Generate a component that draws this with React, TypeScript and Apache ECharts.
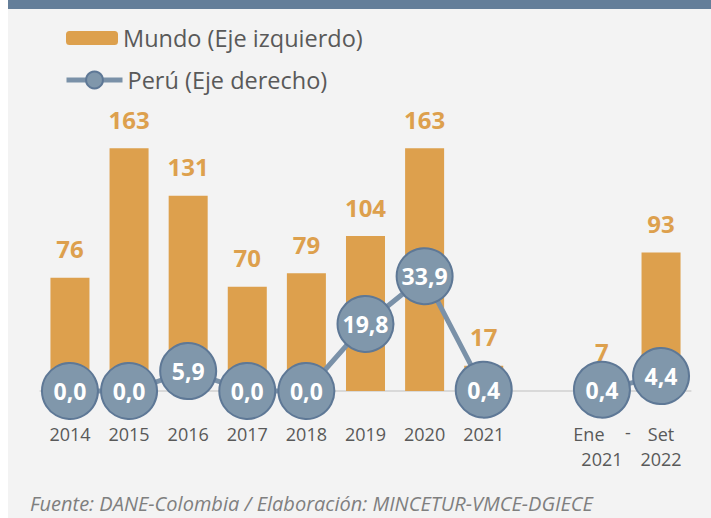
import React, { useEffect, useRef } from 'react';
import * as echarts from 'echarts';

const categories = ['2014', '2015', '2016', '2017', '2018', '2019', '2020', '2021', '', 'Ene\n2021', 'Set\n2022'];
const mundo = [76, 163, 131, 70, 79, 104, 163, 17, null, 7, 93];
const peru = [0.0, 0.0, 5.9, 0.0, 0.0, 19.8, 33.9, 0.4, null, 0.4, 4.4];
const legendNames = ['Mundo (Eje izquierdo)', 'Perú (Eje derecho)'];
const sourceText = 'Fuente: DANE-Colombia / Elaboración: MINCETUR-VMCE-DGIECE';

const FONT = '"Open Sans", "Noto Sans", sans-serif';

export default function App() {
  const ref = useRef<HTMLDivElement>(null);
  useEffect(() => {
    if (!ref.current) return;
    const chart = echarts.init(ref.current, undefined, { renderer: 'svg' });
    chart.setOption({
      animation: false,
      backgroundColor: '#F3F3F3',
      textStyle: { fontFamily: FONT },
      graphic: [
        { type: 'rect', left: 0, top: 0, shape: { width: 8, height: 518 }, style: { fill: '#ffffff' } },
        { type: 'rect', left: 8, top: 0, shape: { width: 703, height: 9 }, style: { fill: '#647E99' } },
        {
          type: 'text', x: 628, y: 432,
          style: { text: '-', fill: '#595959', font: `18px ${FONT}`, textAlign: 'center', textVerticalAlign: 'middle' },
        },
        {
          type: 'text', x: 30, y: 503,
          style: { text: sourceText, fill: '#7F7F7F', font: `italic 20px ${FONT}`, textAlign: 'left', textVerticalAlign: 'middle' },
        },
      ],
      legend: [
        {
          data: [legendNames[0]],
          left: 61, top: 21,
          itemWidth: 52, itemHeight: 14,
          textStyle: { fontSize: 23.5, color: '#595959', fontFamily: FONT },
        },
        {
          data: [legendNames[1]],
          left: 59, top: 63,
          itemWidth: 56, itemHeight: 21,
          lineStyle: { width: 5 },
          textStyle: { fontSize: 23.5, color: '#595959', fontFamily: FONT },
        },
      ],
      grid: { left: 40.4, right: 20.4, top: 93, bottom: 127, containLabel: false },
      xAxis: {
        type: 'category',
        data: categories,
        boundaryGap: true,
        axisTick: { show: false },
        axisLine: { show: true, lineStyle: { color: '#D9D9D9', width: 2 } },
        axisLabel: {
          interval: 0, margin: 30, fontSize: 18, color: '#595959', lineHeight: 25, fontFamily: FONT,
          formatter: (v: string) => {
            if (v.indexOf('Ene') === 0) {
              const parts = v.split('\n');
              return `{ene|${parts[0]}}\n{yr|${parts[1]}}`;
            }
            return v;
          },
          rich: {
            ene: { fontSize: 18, lineHeight: 25, color: '#595959', fontFamily: FONT, padding: [0, 26, 0, 0] },
            yr: { fontSize: 18, lineHeight: 25, color: '#595959', fontFamily: FONT, align: 'center' },
          },
        },
      },
      yAxis: [
        { type: 'value', min: 0, max: 200, show: false, splitLine: { show: false } },
        { type: 'value', min: 0, max: 88, show: false, splitLine: { show: false } },
      ],
      series: [
        {
          name: legendNames[0],
          type: 'bar',
          data: mundo,
          yAxisIndex: 0,
          barWidth: '66%',
          itemStyle: { color: '#DDA04D' },
          label: {
            show: true, position: 'top', distance: 17,
            color: '#DDA04D', fontWeight: 'bold', fontSize: 24, fontFamily: FONT,
          },
        },
        {
          name: legendNames[1],
          type: 'line',
          data: peru,
          yAxisIndex: 1,
          connectNulls: false,
          clip: false,
          symbol: 'circle',
          symbolSize: 56,
          itemStyle: { color: '#8097AB', borderColor: '#5E7896', borderWidth: 2 },
          lineStyle: { color: '#7A91A8', width: 5 },
          label: {
            show: true, position: 'inside',
            color: '#ffffff', fontWeight: 'bold', fontSize: 23, fontFamily: FONT,
            formatter: (p: any) => (p.value == null ? '' : Number(p.value).toFixed(1).replace('.', ',')),
          },
          z: 3,
        },
      ],
    });
    return () => chart.dispose();
  }, []);
  return <div ref={ref} style={{ position: 'fixed', left: 0, top: 0, width: 711, height: 518 }} />;
}
